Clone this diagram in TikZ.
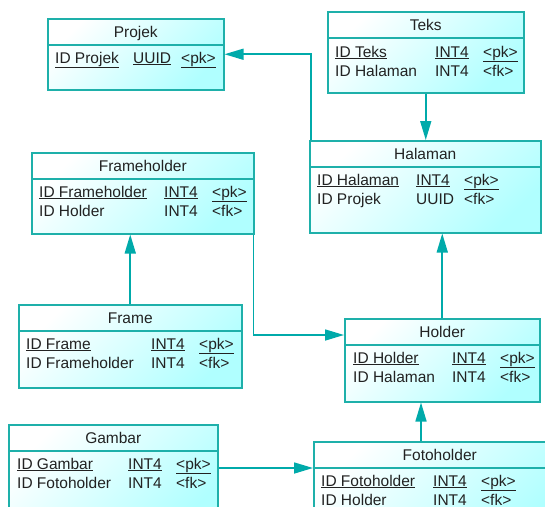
\documentclass[tikz,border=0pt]{standalone}
\usepackage{fontspec}
\setmainfont{Liberation Sans}
\usetikzlibrary{arrows.meta}

\definecolor{tealedge}{RGB}{30,176,170}
\definecolor{tealline}{RGB}{0,170,170}
\definecolor{cellend}{RGB}{176,255,255}
\definecolor{inktext}{RGB}{34,34,34}

% one row of a table: name column of width #1, type column, key
\newcommand{\colrow}[4]{\makebox[#1][l]{#2}\makebox[48pt][l]{#3}#4}

\tikzset{
    tbl/.style={draw=tealedge, line width=1.5pt, anchor=north west, inner sep=0pt,
        shading=axis, top color=white, bottom color=cellend, shading angle=45},
    tbltitle/.style={text=inktext, anchor=base, inner sep=0pt},
    row/.style={text=inktext, anchor=base west, inner sep=0pt},
    fk/.style={draw=tealline, line width=1.6pt, -{Triangle[length=19pt, width=11pt]}}
}

\begin{document}
\begin{tikzpicture}[x=1pt, y=-1pt, font=\fontsize{15.5}{18}\selectfont]
        \useasboundingbox (0,0) rectangle (545,506);
        \clip (0,0) rectangle (545,506);

        % 1. The tables (boxes, titles, header lines)
        \foreach \n/\t/\x/\y/\w/\h in {
            projek/Projek/47/18/176/71,
            teks/Teks/327/11/196/81,
            halaman/Halaman/309/140/231/92,
            frameholder/Frameholder/31/152/222/81,
            frame/Frame/18/304/223/83,
            holder/Holder/344/318/195/83,
            fotoholder/Fotoholder/313/441/252/89,
            gambar/Gambar/8/424/209/106}
        {
            \node[tbl, minimum width=\w pt, minimum height=\h pt] (\n) at (\x,\y) {};
            \node[tbltitle] (\n-title) at ([yshift=-19pt]\n.north) {\t};
            \draw[tealedge, line width=1.5pt] ([yshift=-27pt]\n.north west) -- ([yshift=-27pt]\n.north east);
        }

        % 2. The rows (placed at their baselines)
        % Projek
        \node[row] (projek-pk) at (55,63) {\colrow{78pt}{\underline{ID Projek}}{\underline{UUID}}{\underline{<pk>}}};

        % Teks
        \node[row] (teks-pk) at (335,57) {\colrow{100pt}{\underline{ID Teks}}{\underline{INT4}}{\underline{<pk>}}};
        \node[row] (teks-fk) at (335,76) {\colrow{100pt}{ID Halaman}{INT4}{<fk>}};

        % Halaman
        \node[row] (halaman-pk) at (317,185) {\colrow{99pt}{\underline{ID Halaman}}{\underline{INT4}}{\underline{<pk>}}};
        \node[row] (halaman-fk) at (317,204) {\colrow{99pt}{ID Projek}{UUID}{<fk>}};

        % Frameholder
        \node[row] (frameholder-pk) at (39,197) {\colrow{125pt}{\underline{ID Frameholder}}{\underline{INT4}}{\underline{<pk>}}};
        \node[row] (frameholder-fk) at (39,216) {\colrow{125pt}{ID Holder}{INT4}{<fk>}};

        % Frame
        \node[row] (frame-pk) at (26,349) {\colrow{125pt}{\underline{ID Frame}}{\underline{INT4}}{\underline{<pk>}}};
        \node[row] (frame-fk) at (26,368) {\colrow{125pt}{ID Frameholder}{INT4}{<fk>}};

        % Holder
        \node[row] (holder-pk) at (353,363) {\colrow{99pt}{\underline{ID Holder}}{\underline{INT4}}{\underline{<pk>}}};
        \node[row] (holder-fk) at (353,382) {\colrow{99pt}{ID Halaman}{INT4}{<fk>}};

        % Fotoholder
        \node[row] (fotoholder-pk) at (321,486) {\colrow{112pt}{\underline{ID Fotoholder}}{\underline{INT4}}{\underline{<pk>}}};
        \node[row] (fotoholder-fk) at (321,505) {\colrow{112pt}{ID Holder}{INT4}{<fk>}};

        % Gambar
        \node[row] (gambar-pk) at (17,469) {\colrow{111pt}{\underline{ID Gambar}}{\underline{INT4}}{\underline{<pk>}}};
        \node[row] (gambar-fk) at (17,488) {\colrow{111pt}{ID Fotoholder}{INT4}{<fk>}};

        % 3. The references (arrow points at the referenced table)
        \draw[fk] ([xshift=2pt]halaman.north west) |- (projek.east);
        \draw[fk] (teks.south) -- (teks.south |- halaman.north);
        \draw[fk] (frame.north) -- (frame.north |- frameholder.south);
        \draw[fk] ([xshift=-1pt]frameholder.south east) |- ([yshift=-17pt]holder.north west);
        \draw[fk] (holder.north) -- (holder.north |- halaman.south);
        \draw[fk] ([xshift=108pt]fotoholder.north west) coordinate (fh-top) -- (fh-top |- holder.south);
        \draw[fk] ([yshift=-44pt]gambar.north east) coordinate (gb-out) -- (gb-out -| fotoholder.west);

    \end{tikzpicture}
\end{document}
